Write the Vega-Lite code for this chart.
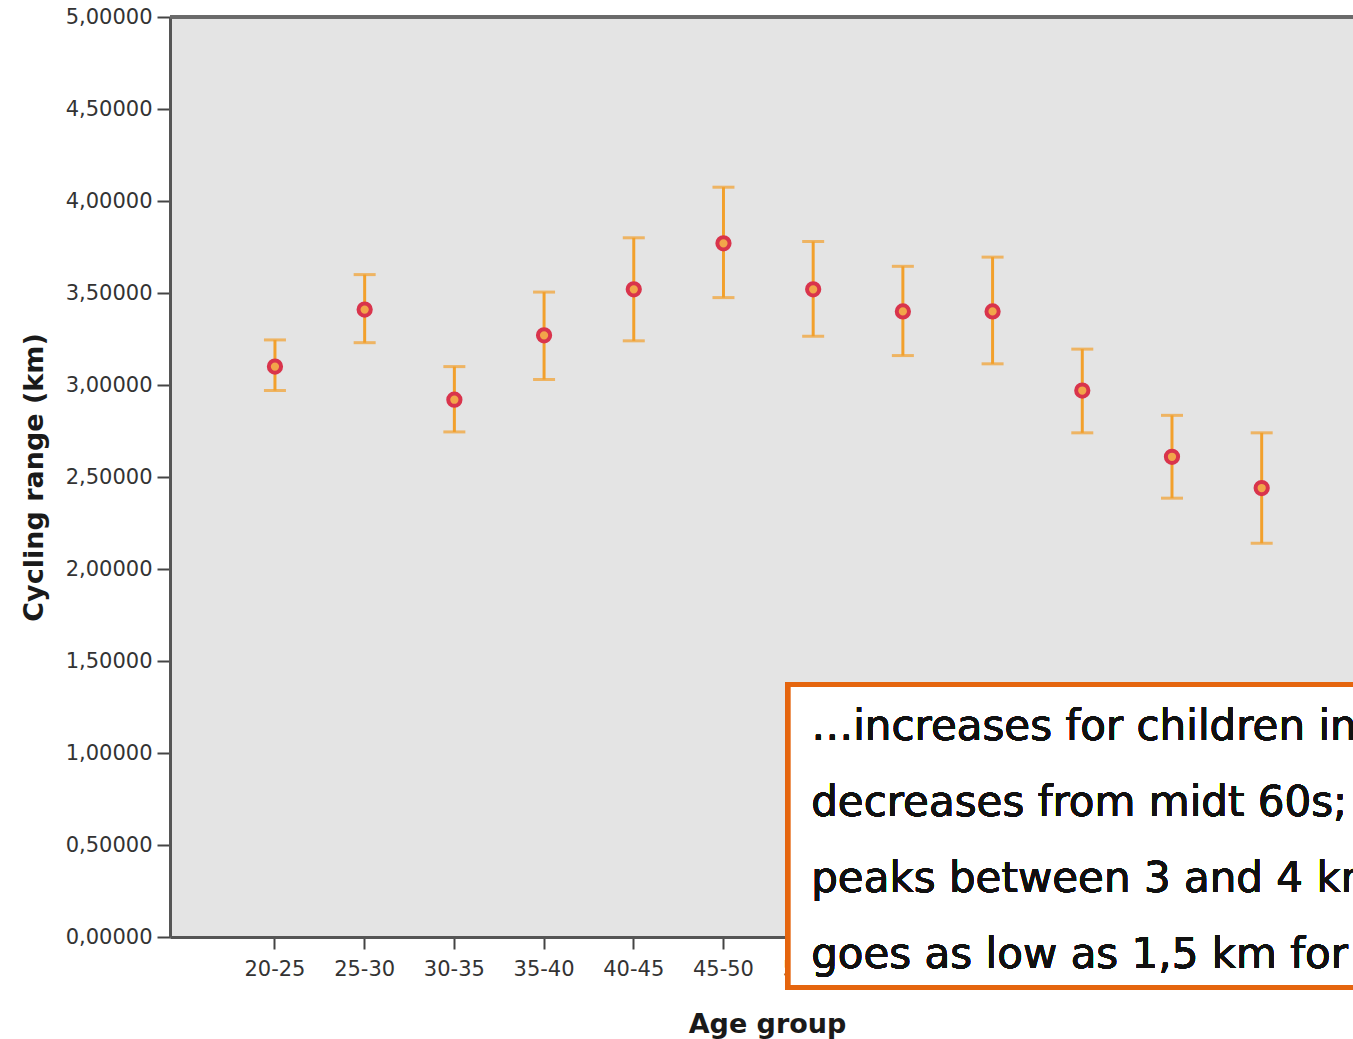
{
  "$schema": "https://vega.github.io/schema/vega-lite/v6.json",
  "autosize": {"type": "none"},
  "padding": {"left": 170, "top": 17, "right": 0, "bottom": 102},
  "width": 1183,
  "height": 920,
  "background": "white",
  "config": {
    "view": {"fill": "#e4e4e4", "stroke": null},
    "font": "DejaVu Sans"
  },
  "data": {
    "values": [
      {"group": "20-25", "mean": 3.10, "lo": 2.97, "hi": 3.245},
      {"group": "25-30", "mean": 3.41, "lo": 3.23, "hi": 3.60},
      {"group": "30-35", "mean": 2.92, "lo": 2.745, "hi": 3.10},
      {"group": "35-40", "mean": 3.27, "lo": 3.03, "hi": 3.505},
      {"group": "40-45", "mean": 3.52, "lo": 3.24, "hi": 3.80},
      {"group": "45-50", "mean": 3.77, "lo": 3.475, "hi": 4.075},
      {"group": "50-55", "mean": 3.52, "lo": 3.265, "hi": 3.78},
      {"group": "55-60", "mean": 3.40, "lo": 3.16, "hi": 3.645},
      {"group": "60-65", "mean": 3.40, "lo": 3.115, "hi": 3.695},
      {"group": "65-70", "mean": 2.97, "lo": 2.74, "hi": 3.195},
      {"group": "70-75", "mean": 2.61, "lo": 2.385, "hi": 2.835},
      {"group": "75-80", "mean": 2.44, "lo": 2.14, "hi": 2.74}
    ]
  },
  "encoding": {
    "x": {
      "field": "group",
      "type": "ordinal",
      "sort": null,
      "scale": {"type": "band", "paddingInner": 0, "paddingOuter": 0.594, "align": 0.564},
      "axis": {
        "title": "Age group",
        "titleFont": "DejaVu Sans",
        "titleFontWeight": "bold",
        "titleFontSize": 27,
        "titleColor": "#1a1a1a",
        "titleBaseline": "alphabetic",
        "titleX": 597,
        "titleY": 95,
        "labelAngle": 0,
        "labelFont": "DejaVu Sans",
        "labelFontSize": 21,
        "labelColor": "#333333",
        "labelPadding": 9,
        "tickSize": 12,
        "tickWidth": 2,
        "tickColor": "#444444",
        "domainColor": "#555555",
        "domainWidth": 3,
        "grid": false
      }
    }
  },
  "layer": [
    {
      "mark": {"type": "rule", "color": "#6a6a6a", "strokeWidth": 2.5},
      "encoding": {"y": {"datum": 5}, "x": null}
    },
    {
      "mark": {"type": "rule", "color": "#f2a02c", "strokeWidth": 3},
      "encoding": {
        "y": {
          "field": "lo",
          "type": "quantitative",
          "scale": {"domain": [0, 5], "nice": false, "zero": true},
          "axis": {
            "title": "Cycling range (km)",
            "titleFont": "DejaVu Sans",
            "titleFontWeight": "bold",
            "titleFontSize": 27,
            "titleColor": "#1a1a1a",
            "titleBaseline": "alphabetic",
            "titleX": -128,
            "titleY": 460,
            "titleAlign": "center",
            "values": [0, 0.5, 1, 1.5, 2, 2.5, 3, 3.5, 4, 4.5, 5],
            "labelExpr": "replace(format(datum.value, '.5f'), '.', ',')",
            "labelFont": "DejaVu Sans",
            "labelFontSize": 21,
            "labelColor": "#333333",
            "labelPadding": 5,
            "tickSize": 13,
            "tickWidth": 2,
            "tickColor": "#444444",
            "domainColor": "#555555",
            "domainWidth": 3,
            "grid": false
          }
        },
        "y2": {"field": "hi"}
      }
    },
    {
      "mark": {"type": "tick", "color": "#f2a02c", "thickness": 3, "size": 22},
      "encoding": {"y": {"field": "lo", "type": "quantitative"}}
    },
    {
      "mark": {"type": "tick", "color": "#f2a02c", "thickness": 3, "size": 22},
      "encoding": {"y": {"field": "hi", "type": "quantitative"}}
    },
    {
      "mark": {"type": "point", "shape": "circle", "filled": false, "fill": "#f2a54a", "fillOpacity": 1, "stroke": "#d9344c", "strokeWidth": 4, "size": 150, "opacity": 1},
      "encoding": {"y": {"field": "mean", "type": "quantitative"}}
    },
    {
      "mark": {"type": "rect", "fill": "white", "stroke": "#e5650e", "strokeWidth": 5, "xOffset": -25, "x2Offset": 300},
      "encoding": {
        "x": {"datum": "50-55", "bandPosition": 0.5},
        "x2": {"datum": "75-80", "bandPosition": 0.5},
        "y": {"datum": 1.372},
        "y2": {"datum": -0.2745}
      }
    },
    {
      "mark": {"type": "text", "align": "left", "baseline": "alphabetic", "dx": -2, "font": "DejaVu Sans", "fontSize": 42, "color": "#111111", "lineBreak": "\n", "lineHeight": 76},
      "encoding": {
        "x": {"datum": "50-55", "bandPosition": 0.5},
        "y": {"datum": 1.0707},
        "text": {"value": "…increases for children in\ndecreases from midt 60s;\npeaks between 3 and 4 km\ngoes as low as 1,5 km for"}
      }
    }
  ]
}
